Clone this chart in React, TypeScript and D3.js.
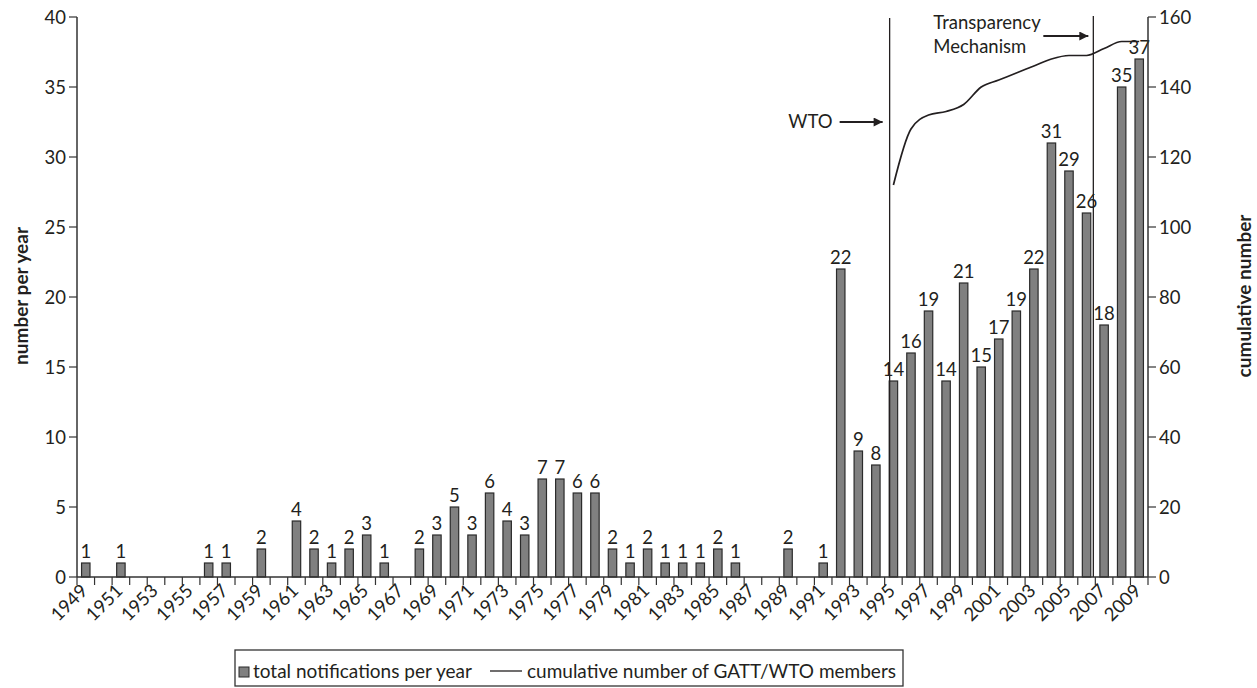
import React from "react";
import * as d3 from "d3";

const years: number[] = d3.range(1949, 2010);
const notifications: number[] = [
  1, 0, 1, 0, 0, 0, 0, 1, 1, 0, 2, 0, 4, 2, 1, 2, 3, 1, 0, 2,
  3, 5, 3, 6, 4, 3, 7, 7, 6, 6, 2, 1, 2, 1, 1, 1, 2, 1, 0, 0,
  2, 0, 1, 22, 9, 8, 14, 16, 19, 14, 21, 15, 17, 19, 22, 31, 29, 26, 18, 35,
  37,
];
const cumYears: number[] = [1995, 1996, 1997, 1998, 1999, 2000, 2001, 2002, 2003, 2004, 2005, 2006, 2007, 2008, 2009];
const cumMembers: number[] = [112, 128, 132, 133, 135, 140, 142, 144, 146, 148, 149, 149, 151, 153, 153];
const leftTicks: number[] = [0, 5, 10, 15, 20, 25, 30, 35, 40];
const rightTicks: number[] = [0, 20, 40, 60, 80, 100, 120, 140, 160];
const labelYears: number[] = years.filter((y) => (y - 1949) % 2 === 0);

const W = 1257;
const H = 688;
const FONT = "Lato, 'Open Sans', sans-serif";
const INK = "#231f20";
const FS = 18.5;

export default function App() {
  const left = 77;
  const right = 1148;
  const top = 17;
  const bottom = 577;
  const pad = 0.52;
  const x = d3
    .scaleBand<number>()
    .domain(years)
    .range([left, right])
    .paddingInner(pad)
    .paddingOuter(pad / 2);
  const step = x.step();
  const bw = x.bandwidth();
  const cx = (y: number) => (x(y) as number) + bw / 2;
  const bStart = (y: number) => cx(y) - step / 2;
  const yL = d3.scaleLinear().domain([0, 40]).range([bottom, top]);
  const yR = d3.scaleLinear().domain([0, 160]).range([bottom, top]);

  const line = d3
    .line<number>()
    .x((_, i) => cx(cumYears[i]))
    .y((d) => yR(d))
    .curve(d3.curveMonotoneX);

  const wtoX = bStart(1995) + 5;
  const tmX = bStart(2007) - 2;
  const boundaries = years.map((y) => bStart(y)).concat([right]);

  return (
    <svg
      width={W}
      height={H}
      style={{ position: "absolute", left: 0, top: 0, background: "#fff" }}
      fontFamily={FONT}
    >
      <defs>
        <marker id="ah" viewBox="0 0 10 10" refX="10" refY="5" markerWidth="13" markerHeight="9" orient="auto" markerUnits="userSpaceOnUse">
          <path d="M0,0 L10,5 L0,10 z" fill={INK} />
        </marker>
      </defs>

      {/* bars */}
      {years.map((yr, i) =>
        notifications[i] > 0 ? (
          <g key={yr}>
            <rect
              x={x(yr) as number}
              y={yL(notifications[i])}
              width={bw}
              height={bottom - yL(notifications[i])}
              fill="#808080"
              stroke="#2b2b2b"
              strokeWidth={1.2}
            />
            <text x={cx(yr)} y={yL(notifications[i]) - 5} textAnchor="middle" fontSize={FS} fill={INK}>
              {notifications[i]}
            </text>
          </g>
        ) : null
      )}

      {/* vertical markers */}
      <line x1={wtoX} x2={wtoX} y1={18} y2={bottom} stroke={INK} strokeWidth={1.3} />
      <line x1={tmX} x2={tmX} y1={16} y2={bottom} stroke={INK} strokeWidth={1.3} />

      {/* cumulative line */}
      <path d={line(cumMembers) || ""} fill="none" stroke={INK} strokeWidth={1.7} />

      {/* annotations */}
      <text x={wtoX - 57} y={128} textAnchor="end" fontSize={FS} fill={INK}>WTO</text>
      <line x1={wtoX - 50} x2={wtoX - 7} y1={122} y2={122} stroke={INK} strokeWidth={2.2} markerEnd="url(#ah)" />
      <text x={tmX - 160} y={29} fontSize={FS} fill={INK}>Transparency</text>
      <text x={tmX - 160} y={53} fontSize={FS} fill={INK}>Mechanism</text>
      <line x1={tmX - 50} x2={tmX - 5} y1={36} y2={36} stroke={INK} strokeWidth={2.2} markerEnd="url(#ah)" />

      {/* x axis */}
      <line x1={left} x2={right} y1={bottom} y2={bottom} stroke="#333" strokeWidth={1.5} />
      {boundaries.map((b, i) => (
        <line key={i} x1={b} x2={b} y1={bottom} y2={bottom + 8} stroke="#333" strokeWidth={1.2} />
      ))}
      {labelYears.map((yr) => (
        <text
          key={yr}
          transform={`translate(${cx(yr) + 3},${bottom + 15}) rotate(-45)`}
          textAnchor="end"
          fontSize={FS}
          fill={INK}
        >
          {yr}
        </text>
      ))}

      {/* left axis */}
      <line x1={left} x2={left} y1={top} y2={bottom} stroke="#333" strokeWidth={1.5} />
      {leftTicks.map((t) => (
        <g key={t}>
          <line x1={left - 8} x2={left} y1={yL(t)} y2={yL(t)} stroke="#333" strokeWidth={1.2} />
          <text x={left - 11} y={yL(t) + 6.5} textAnchor="end" fontSize={FS} fill={INK}>{t}</text>
        </g>
      ))}
      <text transform={`translate(28,296) rotate(-90)`} textAnchor="middle" fontSize={19} fontWeight={700} fill={INK}>
        number per year
      </text>

      {/* right axis */}
      <line x1={right} x2={right} y1={top} y2={bottom} stroke="#333" strokeWidth={1.5} />
      {rightTicks.map((t) => (
        <g key={t}>
          <line x1={right} x2={right + 8} y1={yR(t)} y2={yR(t)} stroke="#333" strokeWidth={1.2} />
          <text x={right + 11} y={yR(t) + 6.5} textAnchor="start" fontSize={FS} fill={INK}>{t}</text>
        </g>
      ))}
      <text transform={`translate(1251,296) rotate(-90)`} textAnchor="middle" fontSize={19} fontWeight={700} fill={INK}>
        cumulative number
      </text>

      {/* legend */}
      <rect x={235} y={650} width={668} height={36} fill="none" stroke="#333" strokeWidth={1.3} />
      <rect x={239} y={667} width={10} height={10} fill="#808080" stroke="#2b2b2b" strokeWidth={1} />
      <text x={253} y={678} fontSize={19} fill={INK}>total notifications per year</text>
      <line x1={490} x2={522} y1={671} y2={671} stroke={INK} strokeWidth={1.3} />
      <text x={527} y={678} fontSize={19} fill={INK}>cumulative number of GATT/WTO members</text>
    </svg>
  );
}
